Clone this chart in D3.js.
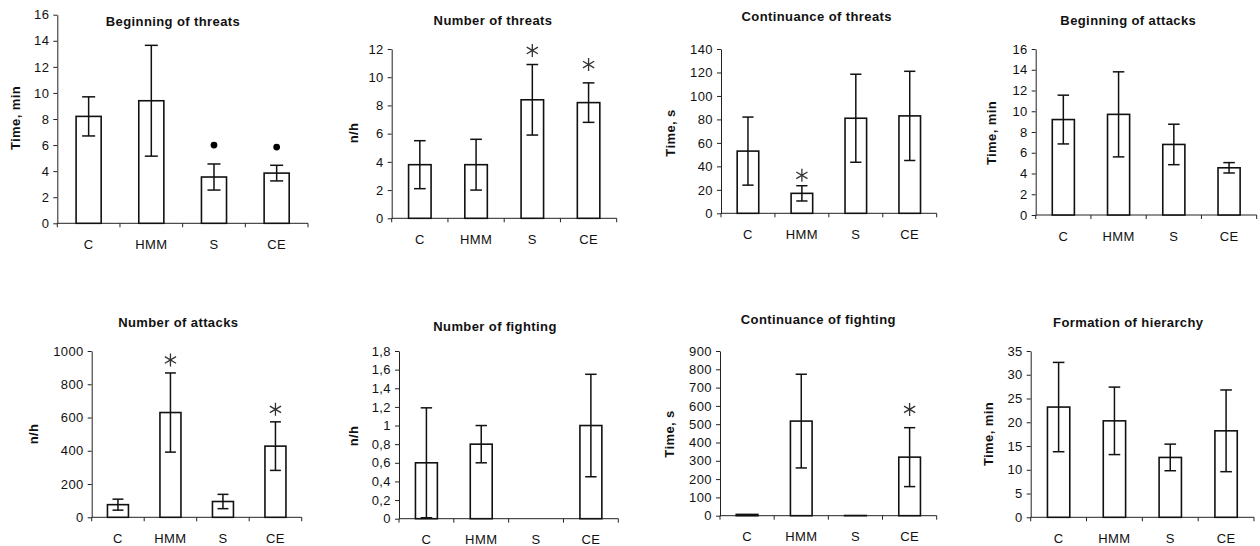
<!DOCTYPE html>
<html>
<head>
<meta charset="utf-8">
<script src="https://cdn.jsdelivr.net/npm/d3@7"></script>
<style>
  body { margin: 0; background: #fff; }
  svg { display: block; }
</style>
</head>
<body>
<script>
// Groups on the x axis
const categories = ['C', 'HMM', 'S', 'CE'];

// One entry per panel, row by row
const titles = [
    'Beginning of threats', 'Number of threats', 'Continuance of threats', 'Beginning of attacks',
    'Number of attacks', 'Number of fighting', 'Continuance of fighting', 'Formation of hierarchy'
];
const yLabels = ['Time, min', 'n/h', 'Time, s', 'Time, min', 'n/h', 'n/h', 'Time, s', 'Time, min'];
const yMax = [16, 12, 140, 16, 1000, 1.8, 900, 35];
const yTicks = [
    [0, 2, 4, 6, 8, 10, 12, 14, 16],
    [0, 2, 4, 6, 8, 10, 12],
    [0, 20, 40, 60, 80, 100, 120, 140],
    [0, 2, 4, 6, 8, 10, 12, 14, 16],
    [0, 200, 400, 600, 800, 1000],
    [0, 0.2, 0.4, 0.6, 0.8, 1, 1.2, 1.4, 1.6, 1.8],
    [0, 100, 200, 300, 400, 500, 600, 700, 800, 900],
    [0, 5, 10, 15, 20, 25, 30, 35]
];

// Means for C, HMM, S, CE
const means = [
    [8.2, 9.4, 3.55, 3.85],
    [3.8, 3.8, 8.4, 8.2],
    [53, 17, 81, 83],
    [9.2, 9.7, 6.8, 4.55],
    [76, 630, 95, 428],
    [0.6, 0.8, 0, 1.0],
    [7, 517, 1, 320],
    [23.2, 20.3, 12.6, 18.2]
];
// Error (+/-) for C, HMM, S, CE
const errors = [
    [1.5, 4.25, 1.0, 0.6],
    [1.7, 1.8, 2.5, 1.4],
    [29, 6.5, 37.5, 38],
    [2.35, 4.1, 1.95, 0.5],
    [33, 238, 43, 146],
    [0.59, 0.2, 0, 0.55],
    [0, 256, 0, 161],
    [9.4, 7.1, 2.8, 8.6]
];

// Significance marks: panel index, group, value where the mark sits
const dots = [
    { panel: 0, cat: 'S', value: 6.0 },
    { panel: 0, cat: 'CE', value: 5.85 }
];
const stars = [
    { panel: 1, cat: 'S', value: 11.9 },
    { panel: 1, cat: 'CE', value: 10.9 },
    { panel: 2, cat: 'HMM', value: 32.4 },
    { panel: 4, cat: 'HMM', value: 946 },
    { panel: 4, cat: 'CE', value: 649 },
    { panel: 6, cat: 'CE', value: 581 }
];

// Layout of each plot area (left, right, top, bottom) and its title / axis label
const boxes = [
    { l: 57.3, r: 308, t: 14.7, b: 223.3, tx: 173, ty: 25.5, lx: 15, ly: 118 },
    { l: 391.7, r: 616.7, t: 49, b: 218.3, tx: 493, ty: 24.5, lx: 353.3, ly: 133 },
    { l: 721, r: 936.7, t: 49, b: 213.3, tx: 816.7, ty: 21, lx: 670.7, ly: 133 },
    { l: 1035.7, r: 1256.7, t: 49, b: 215, tx: 1128.3, ty: 24.5, lx: 991.7, ly: 133 },
    { l: 91.7, r: 301.7, t: 351, b: 517.3, tx: 178.3, ty: 327, lx: 33.3, ly: 434 },
    { l: 399, r: 618.3, t: 351, b: 518.7, tx: 495, ty: 331, lx: 353.3, ly: 436 },
    { l: 720, r: 936.7, t: 351, b: 515.7, tx: 818.3, ty: 323.5, lx: 669.3, ly: 434 },
    { l: 1030.7, r: 1254, t: 351, b: 517.3, tx: 1128.3, ty: 327, lx: 988.3, ly: 434 }
];

const svg = d3.select('body').append('svg')
    .attr('width', 1260)
    .attr('height', 546)
    .attr('font-family', '"Liberation Sans", Arial, sans-serif')
    .attr('font-size', 13)
    .attr('letter-spacing', '0.4px');

// comma as decimal separator, like the original
const fmt = d => String(d).replace('.', ',');

titles.forEach((title, i) => {
    const b = boxes[i];
    const g = svg.append('g');

    const x = d3.scaleBand()
        .domain(categories)
        .range([b.l, b.r])
        .paddingInner(0.6)
        .paddingOuter(0.3);
    const y = d3.scaleLinear()
        .domain([0, yMax[i]])
        .range([b.b, b.t]);
    const bw = x.bandwidth();

    // Y axis
    const yAxis = g.append('g')
        .attr('transform', `translate(${b.l},0)`)
        .call(d3.axisLeft(y).tickValues(yTicks[i]).tickSize(4).tickSizeOuter(0).tickPadding(4).tickFormat(fmt));
    yAxis.selectAll('text').attr('font-size', 13).attr('fill', '#111').attr('font-family', null);
    yAxis.selectAll('line, path').attr('stroke', '#222');

    // X axis line with ticks at group boundaries
    g.append('line')
        .attr('x1', b.l).attr('x2', b.r)
        .attr('y1', b.b).attr('y2', b.b)
        .attr('stroke', '#222');
    g.selectAll('.xtick')
        .data(d3.range(categories.length + 1))
        .enter()
        .append('line')
        .attr('x1', k => b.l + k * x.step())
        .attr('x2', k => b.l + k * x.step())
        .attr('y1', b.b)
        .attr('y2', b.b + 4)
        .attr('stroke', '#222');
    g.selectAll('.xlab')
        .data(categories)
        .enter()
        .append('text')
        .attr('x', d => x(d) + bw / 2)
        .attr('y', b.b + 25.5)
        .attr('text-anchor', 'middle')
        .attr('fill', '#111')
        .text(d => d);

    // Bars
    g.selectAll('.bar')
        .data(categories)
        .enter()
        .append('rect')
        .attr('x', d => x(d))
        .attr('y', (d, k) => y(means[i][k]))
        .attr('width', bw)
        .attr('height', (d, k) => y(0) - y(means[i][k]))
        .attr('fill', '#fff')
        .attr('stroke', '#111')
        .attr('stroke-width', 1.6);

    // Error bars
    const eb = g.selectAll('.err')
        .data(categories.map((c, k) => ({ c, m: means[i][k], e: errors[i][k] })).filter(d => d.e > 0))
        .enter()
        .append('g')
        .attr('stroke', '#111')
        .attr('stroke-width', 1.5);
    eb.append('line')
        .attr('x1', d => x(d.c) + bw / 2).attr('x2', d => x(d.c) + bw / 2)
        .attr('y1', d => y(d.m + d.e)).attr('y2', d => y(d.m - d.e));
    [1, -1].forEach(sign => {
        eb.append('line')
            .attr('x1', d => x(d.c) + bw / 2 - bw * 0.26)
            .attr('x2', d => x(d.c) + bw / 2 + bw * 0.26)
            .attr('y1', d => y(d.m + sign * d.e))
            .attr('y2', d => y(d.m + sign * d.e));
    });

    // Title
    svg.append('text')
        .attr('x', b.tx)
        .attr('y', b.ty)
        .attr('text-anchor', 'middle')
        .attr('font-weight', 'bold')
        .attr('fill', '#111')
        .text(title);

    // Y axis label
    svg.append('text')
        .attr('transform', `translate(${b.lx},${b.ly}) rotate(-90)`)
        .attr('dy', '0.35em')
        .attr('text-anchor', 'middle')
        .attr('font-weight', 'bold')
        .attr('fill', '#111')
        .text(yLabels[i]);

    // Significance marks
    dots.filter(d => d.panel === i).forEach(d => {
        g.append('circle')
            .attr('cx', x(d.cat) + bw / 2)
            .attr('cy', y(d.value))
            .attr('r', 3.4)
            .attr('fill', '#000');
    });
    stars.filter(d => d.panel === i).forEach(d => {
        g.append('path')
            .attr('transform', `translate(${x(d.cat) + bw / 2},${y(d.value)})`)
            .attr('d', 'M0,-6.5V6.5M-5.6,-3.3L5.6,3.3M-5.6,3.3L5.6,-3.3')
            .attr('stroke', '#333')
            .attr('stroke-width', 1.3)
            .attr('fill', 'none');
    });
});
</script>
</body>
</html>
